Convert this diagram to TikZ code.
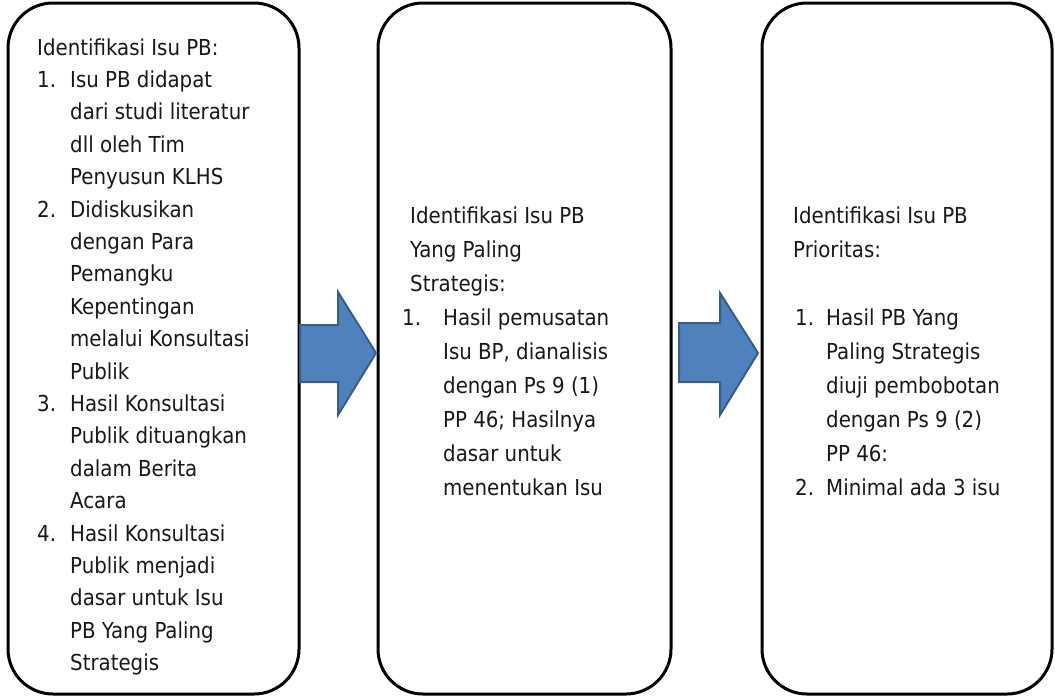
\documentclass[tikz,border=0pt]{standalone}
\usepackage{fontspec}
\setmainfont{DejaVu Sans Condensed}
\definecolor{arrowfill}{HTML}{4F81BD}
\definecolor{arrowline}{HTML}{385D8A}
\begin{document}
\begin{tikzpicture}[x=1pt,y=-1pt,
  panel/.style={draw=black, line width=3pt, rounded corners=45pt, fill=white,
    inner sep=0pt, minimum height=691pt},
  txt/.style={anchor=north west, inner sep=0pt, align=left, text=black!90},
  blockarrow/.style={fill=arrowfill, draw=arrowline, line width=2pt, line join=miter}]
\useasboundingbox (0,0) rectangle (1055,697);

% three process panels
\node[panel, minimum width=291pt] (b1) at (153.5,348.5) {};
\node[panel, minimum width=293pt] (b2) at (524.5,348.5) {};
\node[panel, minimum width=290pt] (b3) at (907,348.5) {};

% block arrows between the panels
\draw[blockarrow] (300,325) -- (338,325) -- (338,292) -- (376,353) -- (338,415)
  -- (338,382) -- (300,382) -- cycle;
\draw[blockarrow] (679,323) -- (720,323) -- (720,293) -- (758,353) -- (720,415)
  -- (720,382) -- (679,382) -- cycle;

% panel texts
\node[txt, font=\fontsize{22pt}{32.4pt}\selectfont] (t1) at (37,32.3) {\strut Identifikasi Isu PB:\\
\makebox[33pt][l]{1.}Isu PB didapat\\
\hspace*{33pt}dari studi literatur\\
\hspace*{33pt}dll oleh Tim\\
\hspace*{33pt}Penyusun KLHS\\
\makebox[33pt][l]{2.}Didiskusikan\\
\hspace*{33pt}dengan Para\\
\hspace*{33pt}Pemangku\\
\hspace*{33pt}Kepentingan\\
\hspace*{33pt}melalui Konsultasi\\
\hspace*{33pt}Publik\\
\makebox[33pt][l]{3.}Hasil Konsultasi\\
\hspace*{33pt}Publik dituangkan\\
\hspace*{33pt}dalam Berita\\
\hspace*{33pt}Acara\\
\makebox[33pt][l]{4.}Hasil Konsultasi\\
\hspace*{33pt}Publik menjadi\\
\hspace*{33pt}dasar untuk Isu\\
\hspace*{33pt}PB Yang Paling\\
\hspace*{33pt}Strategis};

\node[txt, font=\fontsize{22pt}{34.1pt}\selectfont] (t2) at (402,199.1) {\strut\hspace*{8pt}Identifikasi Isu PB\\
\hspace*{8pt}Yang Paling\\
\hspace*{8pt}Strategis:\\
\makebox[41pt][l]{1.}Hasil pemusatan\\
\hspace*{41pt}Isu BP, dianalisis\\
\hspace*{41pt}dengan Ps 9 (1)\\
\hspace*{41pt}PP 46; Hasilnya\\
\hspace*{41pt}dasar untuk\\
\hspace*{41pt}menentukan Isu};

\node[txt, font=\fontsize{22pt}{34.1pt}\selectfont] (t3) at (793,199.1) {\strut Identifikasi Isu PB\\
Prioritas:\\
\strut\\
\hspace*{2pt}\makebox[31pt][l]{1.}Hasil PB Yang\\
\hspace*{33pt}Paling Strategis\\
\hspace*{33pt}diuji pembobotan\\
\hspace*{33pt}dengan Ps 9 (2)\\
\hspace*{33pt}PP 46:\\
\hspace*{2pt}\makebox[31pt][l]{2.}Minimal ada 3 isu};
\end{tikzpicture}
\end{document}
